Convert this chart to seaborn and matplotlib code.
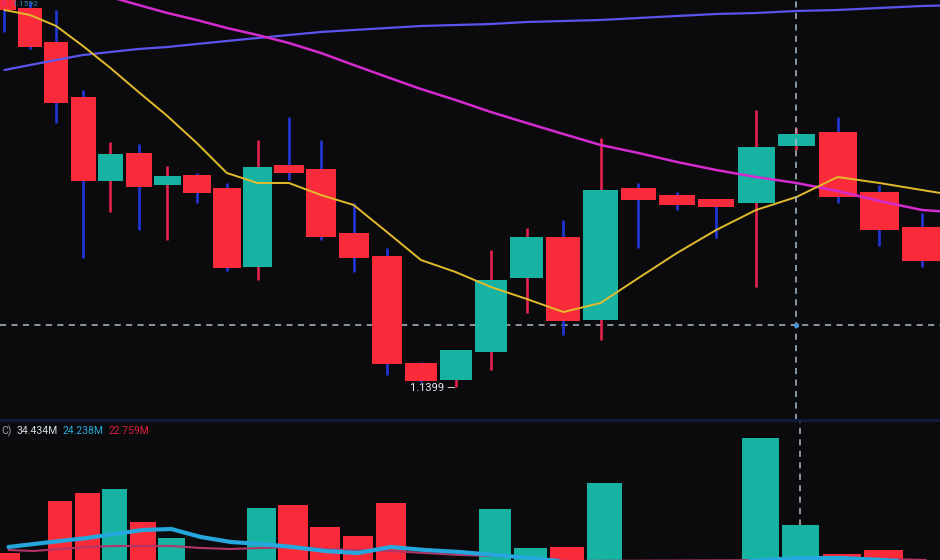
import numpy as np
import pandas as pd
import matplotlib
matplotlib.use("Agg")
import matplotlib.pyplot as plt
from matplotlib import font_manager
import seaborn as sns

bg = "#0b0b0d"
sns.set_theme(style="dark", rc={"axes.facecolor": bg, "figure.facecolor": bg})
plt.rcParams["font.family"] = ["Roboto", "DejaVu Sans"]

# the screen uses a narrow font for the volume readout
installed = {f.name for f in font_manager.fontManager.ttflist}
narrow = "Liberation Sans Narrow" if "Liberation Sans Narrow" in installed else "Roboto"

#################################
# DATA
#################################

opens = [1.15925, 1.15885, 1.15715, 1.15440, 1.15020, 1.15160, 1.15000, 1.15050,
         1.14985, 1.14590, 1.15100, 1.15080, 1.14760, 1.14645, 1.14110, 1.14025,
         1.14165, 1.14535, 1.14740, 1.14325, 1.14985, 1.14950, 1.14930, 1.14910,
         1.15195, 1.15265, 1.14965, 1.14790]
closes = [1.15875, 1.15690, 1.15410, 1.15020, 1.15155, 1.14990, 1.15045, 1.14960,
          1.14585, 1.15090, 1.15060, 1.14740, 1.14635, 1.14105, 1.14020, 1.14175,
          1.14525, 1.14740, 1.14320, 1.14975, 1.14925, 1.14900, 1.14890, 1.15190,
          1.15255, 1.14940, 1.14775, 1.14620]
highs = [1.15925, 1.15915, 1.15875, 1.15475, 1.15215, 1.15205, 1.15095, 1.15060,
         1.15010, 1.15225, 1.15340, 1.15225, 1.14910, 1.14685, 1.14115, 1.14175,
         1.14675, 1.14785, 1.14825, 1.15235, 1.15010, 1.14965, 1.14930, 1.15375,
         1.15285, 1.15340, 1.15000, 1.14860]
lows = [1.15765, 1.15680, 1.15310, 1.14635, 1.14865, 1.14775, 1.14725, 1.14910,
        1.14570, 1.14525, 1.15025, 1.14725, 1.14565, 1.14050, 1.14015, 1.13990,
        1.14075, 1.14360, 1.14250, 1.14225, 1.14685, 1.14875, 1.14735, 1.14490,
        1.15175, 1.14910, 1.14695, 1.14590]

# moving averages (one extra point that runs off the right edge)
ma_fast = [1.15875, 1.15850, 1.15795, 1.15695, 1.15585, 1.15465, 1.15345, 1.15210,
           1.15060, 1.15010, 1.15010, 1.14950, 1.14900, 1.14765, 1.14625, 1.14565,
           1.14490, 1.14430, 1.14365, 1.14410, 1.14535, 1.14660, 1.14775, 1.14875,
           1.14940, 1.15040, 1.15010, 1.14975, 1.14940]
ma_mid = [1.16100, 1.16050, 1.16015, 1.15975, 1.15940, 1.15900, 1.15860, 1.15825,
          1.15785, 1.15750, 1.15710, 1.15660, 1.15600, 1.15540, 1.15480, 1.15425,
          1.15365, 1.15310, 1.15255, 1.15200, 1.15160, 1.15115, 1.15075, 1.15040,
          1.15010, 1.14970, 1.14920, 1.14875, 1.14860]
ma_slow = [1.15575, 1.15600, 1.15625, 1.15650, 1.15665, 1.15680, 1.15690, 1.15705,
           1.15720, 1.15735, 1.15750, 1.15765, 1.15775, 1.15785, 1.15795, 1.15800,
           1.15805, 1.15815, 1.15820, 1.15825, 1.15835, 1.15845, 1.15855, 1.15860,
           1.15870, 1.15875, 1.15885, 1.15895, 1.15900]

# volume in millions
volume = [6.6, 3.0, 22.2, 24.6, 25.8, 15.9, 11.1, 2.7, 3.6, 20.1, 21.0, 14.4, 11.7, 21.6,
          3.3, 2.4, 19.8, 8.1, 8.4, 27.6, 3.0, 2.1, 3.9, 41.1, 15.0, 6.3, 7.5, 2.7]
vol_ma_a = [8.4, 9.3, 10.2, 11.1, 12.3, 13.5, 13.8, 11.4, 9.9, 9.3, 8.4, 7.2, 6.6, 8.4,
            7.5, 6.9, 6.0, 5.1, 3.9, 3.0, 2.7, 2.7, 3.3, 4.5, 5.1, 5.1, 4.5, 3.6]
vol_ma_b = [7.5, 7.2, 7.8, 8.4, 8.7, 8.7, 8.7, 8.1, 7.8, 8.1, 8.4, 7.8, 7.5, 7.2,
            6.6, 6.0, 5.7, 5.1, 4.2, 3.6, 3.3, 3.3, 3.6, 4.2, 4.5, 4.8, 4.8, 4.5]
vol_labels = ["C)", "34.434M", "24.238M", "22.759M"]
vol_label_colors = ["#9aa3ab", "#d6dee6", "#2aaad8", "#dc1f3c"]

cross_idx = 24
cross_price = 1.14300

df = pd.DataFrame({"open": opens, "close": closes, "high": highs, "low": lows, "vol": volume})
df["idx"] = np.arange(len(df))
df["up"] = df["close"] >= df["open"]

red = "#f92b3b"
green = "#17b3a2"
body_col = np.where(df["up"], green, red)
wick_col = np.where(df["up"], "#e3224d", "#2036d6")

#################################
# PHOTO PERSPECTIVE: candles widen to the right
#################################
qa, qb, qc = 4.48, 25.19, 0.3254


def fwd(i):
    i = np.asarray(i, dtype=float)
    return qa + qb * i + qc * i ** 2


def inv(p):
    p = np.asarray(p, dtype=float)
    d = np.clip(qb ** 2 - 4 * qc * (qa - p), 0, None)
    return (-qb + np.sqrt(d)) / (2 * qc)


fig = plt.figure(figsize=(9.4, 5.6), dpi=100)
ax = fig.add_axes([0, 0.25, 1, 0.75])
ax2 = fig.add_axes([0, 0, 1, 0.25])

for a in (ax, ax2):
    a.set_xscale("function", functions=(fwd, inv))
    a.set_facecolor(bg)
    a.grid(False)
    a.set_xticks([])
    a.set_yticks([])
    for s in a.spines.values():
        s.set_visible(False)

#################################
# PRICE PANEL
#################################
ax.axhline(cross_price, color="#a9bdcc", lw=1.1, ls=(0, (4, 3.5)), zorder=1)
ax.vlines(df["idx"], df["low"], df["high"], colors=wick_col, lw=1.9, zorder=2)
ax.bar(df["idx"], df["close"] - df["open"], bottom=df["open"], width=0.92,
       color=body_col, linewidth=0, zorder=3)

ma_x = np.arange(len(ma_fast))
sns.lineplot(x=ma_x, y=ma_slow, ax=ax, color="#5b54ee", lw=1.6, zorder=4)
sns.lineplot(x=ma_x, y=ma_mid, ax=ax, color="#d42bcf", lw=1.8, zorder=4)
sns.lineplot(x=ma_x, y=ma_fast, ax=ax, color="#e2bb2c", lw=1.4, zorder=5)

ax.axvline(cross_idx, color="#a9bdcc", lw=1.1, ls=(0, (4, 3.5)), zorder=6)
ax.scatter([cross_idx], [cross_price], s=14, color="#4f94d6", zorder=7, linewidths=0)

lo = int(df["low"].idxmin())
ax.text(lo, df["low"][lo] - 0.00004, f"{df['low'][lo]:.4f} \u2014", ha="right", va="center",
        color="#e6ecf0", fontsize=8, zorder=8)

ax.set_xlim(inv(0), inv(940))
ax.set_ylim(1.13825, 1.15925)
ax.set_xlabel("")
ax.set_ylabel("")

# legend text at the very top edge of the screen
fig.text(0.001, 0.999, "1", color="#c030c0", fontsize=6, va="top", ha="left")
fig.text(0.013, 0.999, "1.1592", color="#2a8ab8", fontsize=6, va="top", ha="left")

#################################
# VOLUME PANEL
#################################
ax2.axvline(cross_idx, color="#a9bdcc", lw=1.1, ls=(0, (4, 3.5)), zorder=1)
ax2.bar(df["idx"], df["vol"], width=0.92, color=body_col, linewidth=0, zorder=2)
sns.lineplot(x=df["idx"], y=vol_ma_b, ax=ax2, color="#b23468", lw=1.5, zorder=3)
sns.lineplot(x=df["idx"], y=vol_ma_a, ax=ax2, color="#25a6dc", lw=3.0, zorder=4)
ax2.set_xlim(inv(-4), inv(936))
ax2.set_ylim(4.5, 46.5)
ax2.spines["top"].set_visible(True)
ax2.spines["top"].set_color("#101a3c")
ax2.spines["top"].set_linewidth(2.2)
ax2.set_xlabel("")
ax2.set_ylabel("")

# volume readout, each value placed right after the previous one
ty = 1 - 431 / 560
renderer = fig.canvas.get_renderer()
x_px = 1
for lab, col in zip(vol_labels, vol_label_colors):
    t = fig.text(x_px / 940, ty, lab, color=col, fontsize=7.5, va="center",
                 family=[narrow, "DejaVu Sans"])
    x_px = t.get_window_extent(renderer).x1 + 5

fig.savefig("out.png", dpi=100, facecolor=bg)
